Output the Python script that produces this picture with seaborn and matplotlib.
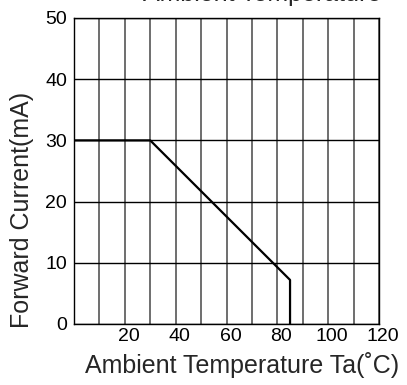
import matplotlib
matplotlib.use("Agg")
import matplotlib.pyplot as plt
import matplotlib.transforms as mtransforms
import seaborn as sns
import pandas as pd

temperature = [0, 30, 85, 85]
current = [30, 30, 7.2, 0]
x_ticks = [20, 40, 60, 80, 100, 120]
y_ticks = [0, 10, 20, 30, 40, 50]

sns.set_style("white")
plt.rcParams['font.family'] = ['Liberation Sans', 'DejaVu Sans']

fig = plt.figure(figsize=(4.07, 3.85), dpi=100)
ax = fig.add_axes([74/407, 1-324/385, 305/407, 306/385])

df = pd.DataFrame({"Ta": temperature, "If": current})
sns.lineplot(data=df, x="Ta", y="If", ax=ax, color="black", linewidth=1.6,
             sort=False, estimator=None, errorbar=None)

ax.set_xlim(0, 120)
ax.set_ylim(0, 50)
ax.set_xticks(range(0, 121, 10))
ax.set_xticklabels(["" if v not in x_ticks else str(v) for v in range(0, 121, 10)])
ax.set_yticks(y_ticks)
ax.set_yticklabels([str(v) for v in y_ticks])
ax.grid(True, axis="x", color="#555555", linewidth=1.2)
ax.grid(True, axis="y", color="black", linewidth=1.0)
ax.tick_params(axis="both", length=0, labelsize=14, colors="black")
ax.tick_params(axis="x", pad=3)
ax.tick_params(axis="y", pad=5)
offset = mtransforms.ScaledTranslation(4/100, 0, fig.dpi_scale_trans)
for lbl in ax.get_xticklabels():
    lbl.set_transform(lbl.get_transform() + offset)
for s in ax.spines.values():
    s.set_visible(True)
    s.set_color("black")
    s.set_linewidth(1.0)
ax.set_xlabel("")
ax.set_ylabel("")

fig.text(242/407, 1-365/385, "Ambient Temperature Ta(˚C)", ha="center", va="center", fontsize=18)
fig.text(22/407, 1-210/385, "Forward Current(mA)", ha="center", va="center", rotation=90, fontsize=18)
fig.text(262/407, 1-6/385, "Ambient Temperature", ha="center", va="bottom", fontsize=18)

fig.savefig("out.png", dpi=100)
